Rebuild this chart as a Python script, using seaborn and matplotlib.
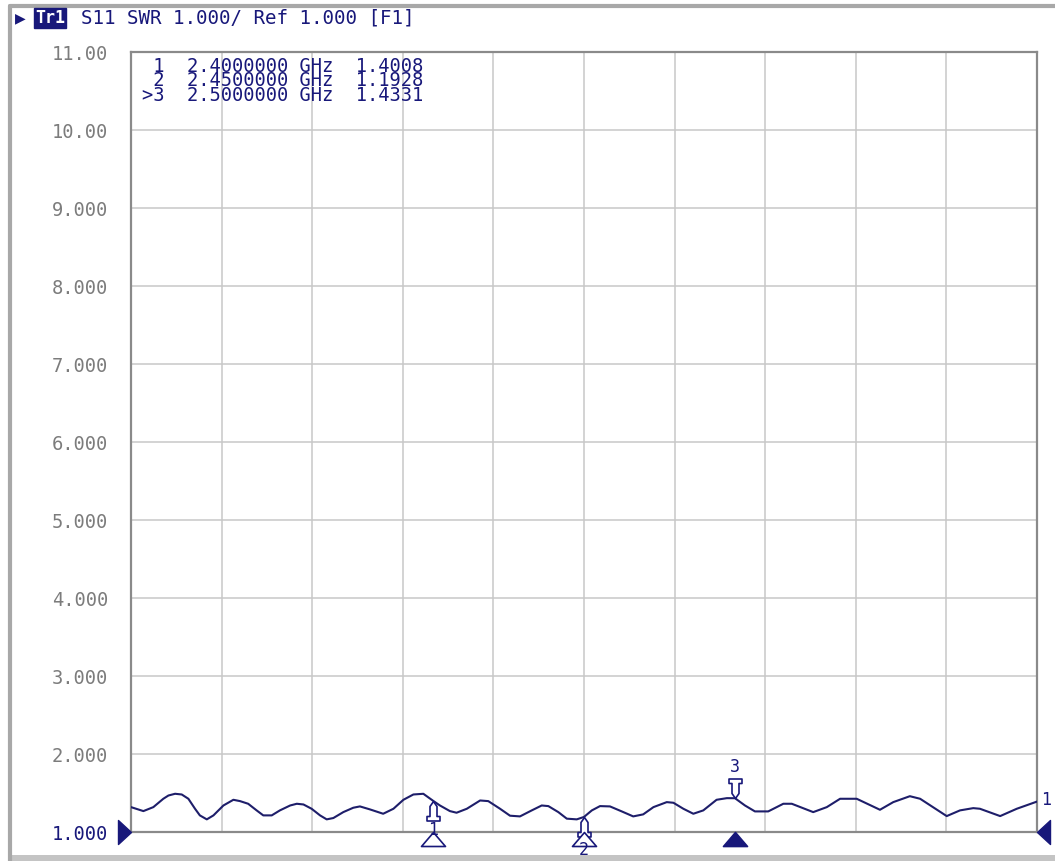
import numpy as np
import pandas as pd
import matplotlib
matplotlib.use("Agg")
import matplotlib.pyplot as plt
import seaborn as sns
from matplotlib.path import Path
from matplotlib.lines import Line2D
from matplotlib.patches import Rectangle

# ---------------- data ----------------
freq_ghz = [2.3000, 2.3041, 2.3074, 2.3107, 2.3124, 2.3146, 2.3168, 2.3190, 2.3212,
            2.3228, 2.3251, 2.3273, 2.3306, 2.3339, 2.3361, 2.3388, 2.3416, 2.3438,
            2.3466, 2.3493, 2.3527, 2.3549, 2.3571, 2.3598, 2.3626, 2.3648, 2.3670,
            2.3703, 2.3736, 2.3758, 2.3791, 2.3835, 2.3869, 2.3902, 2.3935, 2.3968,
            2.4000, 2.4023, 2.4056, 2.4078, 2.4112, 2.4156, 2.4183, 2.4222, 2.4255,
            2.4288, 2.4327, 2.4360, 2.4382, 2.4415, 2.4443, 2.4476, 2.4500, 2.4526,
            2.4553, 2.4586, 2.4625, 2.4663, 2.4696, 2.4730, 2.4774, 2.4796, 2.4829,
            2.4862, 2.4895, 2.4939, 2.4973, 2.5000, 2.5033, 2.5066, 2.5110, 2.5160,
            2.5188, 2.5259, 2.5304, 2.5348, 2.5403, 2.5480, 2.5524, 2.5579, 2.5613,
            2.5701, 2.5745, 2.5789, 2.5811, 2.5878, 2.5933, 2.6000]
swr = [1.319, 1.268, 1.319, 1.426, 1.468, 1.490, 1.481, 1.426, 1.298,
       1.213, 1.162, 1.213, 1.340, 1.413, 1.396, 1.362, 1.277, 1.213,
       1.213, 1.277, 1.340, 1.362, 1.353, 1.298, 1.213, 1.162, 1.179,
       1.255, 1.311, 1.328, 1.290, 1.234, 1.298, 1.413, 1.481, 1.490,
       1.401, 1.340, 1.268, 1.247, 1.298, 1.404, 1.396, 1.298, 1.209,
       1.200, 1.277, 1.340, 1.332, 1.255, 1.171, 1.162, 1.193, 1.277,
       1.332, 1.328, 1.264, 1.200, 1.226, 1.319, 1.383, 1.375, 1.298,
       1.234, 1.277, 1.413, 1.434, 1.433, 1.340, 1.264, 1.264, 1.362,
       1.362, 1.255, 1.319, 1.426, 1.426, 1.285, 1.383, 1.459, 1.426,
       1.204, 1.277, 1.306, 1.298, 1.204, 1.298, 1.390]

marker_ids = ["1", "2", "3"]
marker_prefix = [" ", " ", ">"]
marker_freq = [2.40, 2.45, 2.50]
marker_swr = [1.4008, 1.1928, 1.4331]
marker_active = [False, False, True]
marker_above = [False, False, True]

x_start, x_stop = 2.3, 2.6
y_ticks = [1, 2, 3, 4, 5, 6, 7, 8, 9, 10, 11]
y_tick_labels = ["1.000", "2.000", "3.000", "4.000", "5.000", "6.000",
                 "7.000", "8.000", "9.000", "10.00", "11.00"]
ref_value = 1.0
trace_name = "Tr1"
header_text = "S11 SWR 1.000/ Ref 1.000 [F1]"

# ---------------- style ----------------
NAVY = "#18187a"
TRACE = "#1e1e6a"
GRAY_TXT = "#7c7c7c"
GRID = "#c8c8c8"
FRAME = "#8a8a8a"

sns.set_theme(style="white")
plt.rcParams['font.family'] = ['DejaVu Sans Mono', 'DejaVu Sans']

W, H = 1055, 861
fig = plt.figure(figsize=(W / 100, H / 100), dpi=100)
fig.patch.set_facecolor("white")
ax = fig.add_axes([131 / W, 1 - 832 / H, 906 / W, 780 / H])

df = pd.DataFrame({"freq": freq_ghz, "swr": swr})
sns.lineplot(data=df, x="freq", y="swr", ax=ax, color=TRACE, lw=1.5, zorder=3)

ax.set_xlim(x_start, x_stop)
ax.set_ylim(y_ticks[0], y_ticks[-1])
ax.set_xticks(np.linspace(x_start, x_stop, 11))
ax.set_xticklabels([])
ax.set_yticks(y_ticks)
ax.set_yticklabels(y_tick_labels, fontsize=13.5)
ax.set_xlabel("")
ax.set_ylabel("")
ax.grid(True, color=GRID, lw=1.1)
ax.tick_params(length=0, pad=16.5)
for lbl in ax.get_yticklabels():
    lbl.set_color(GRAY_TXT)
ax.get_yticklabels()[0].set_color(NAVY)
for s in ax.spines.values():
    s.set_color(FRAME)
    s.set_linewidth(1.6)

px = 0.72  # points per pixel

# marker pin shape (apex at origin, body below)
pin_v = [(0, 0), (-3.5, -5), (-3.5, -15), (-6.5, -15), (-6.5, -19.5), (6.5, -19.5),
         (6.5, -15), (3.5, -15), (3.5, -5), (0, 0)]
pin_c = [Path.MOVETO] + [Path.LINETO] * 8 + [Path.CLOSEPOLY]
pin_up = Path(pin_v, pin_c)
pin_down = Path([(x, -y) for x, y in pin_v], pin_c)
tri_c = [Path.MOVETO, Path.LINETO, Path.LINETO, Path.CLOSEPOLY]
tri_up = Path([(0, 0), (-12, -14), (12, -14), (0, 0)], tri_c)

for mid, f, v, act, above in zip(marker_ids, marker_freq, marker_swr,
                                 marker_active, marker_above):
    ax.plot([f], [v], marker=pin_down if above else pin_up, ms=39 * px,
            mfc="white", mec=NAVY, mew=1.2, ls="none", zorder=5, clip_on=False)
    off = 31 if above else -29
    if mid == "2":
        off = -33
    ax.annotate(mid, xy=(f, v), xytext=(0, off * px), textcoords="offset points",
                ha="center", va="center", fontsize=12, color=NAVY, zorder=6,
                annotation_clip=False)
    ax.plot([f], [ref_value], marker=tri_up, ms=28 * px,
            mfc=NAVY if act else "white", mec=NAVY, mew=1.2, ls="none",
            zorder=5, clip_on=False)

# reference-level pointers at both edges
left_v = [(0, 0), (-13, 12), (-13, -12), (0, 0)]
right_v = [(0, 0), (13, 12), (13, -12), (0, 0)]
ax.plot([x_start], [ref_value], marker=Path(left_v, tri_c), ms=26 * px,
        mfc=NAVY, mec=NAVY, ls="none", clip_on=False, zorder=6)
ax.plot([x_stop], [ref_value], marker=Path(right_v, tri_c), ms=26 * px,
        mfc=NAVY, mec=NAVY, ls="none", clip_on=False, zorder=6)

# trace end label
ax.annotate(trace_name[-1], xy=(freq_ghz[-1], swr[-1]), xytext=(3, 1),
            textcoords="offset points", ha="left", va="center",
            fontsize=12, color=NAVY, annotation_clip=False)

# marker table (one text block)
rows = [f"{pre}{mid}  {f:.7f} GHz  {v:.4f}"
        for pre, mid, f, v in zip(marker_prefix, marker_ids, marker_freq, marker_swr)]
fig.text(142 / W, 1 - 81 / H, "\n".join(rows), ha="left", va="center",
         fontsize=13.5, color=NAVY, linespacing=0.73)

# header
fig.text(15 / W, 1 - 18 / H, "\u25B6", ha="left", va="center", fontsize=10,
         color=NAVY, family=['DejaVu Sans'])
fig.text(35 / W, 1 - 18 / H, trace_name, ha="left", va="center", fontsize=12,
         color="white", fontweight="bold",
         bbox=dict(boxstyle="square,pad=0.05", fc=NAVY, ec=NAVY))
fig.text(81 / W, 1 - 18 / H, header_text, ha="left", va="center", fontsize=13.75,
         color=NAVY)

# window chrome
fig.add_artist(Line2D([10 / W, 1], [1 - 6 / H, 1 - 6 / H], color="#a8a8a8", lw=3))
fig.add_artist(Line2D([10 / W, 10 / W], [0, 1 - 6 / H], color="#a8a8a8", lw=3))
fig.add_artist(Rectangle((8 / W, 0), 1, 6 / H, color="#c4c4c4", lw=0))

fig.savefig("out.png", dpi=100, facecolor="white")
